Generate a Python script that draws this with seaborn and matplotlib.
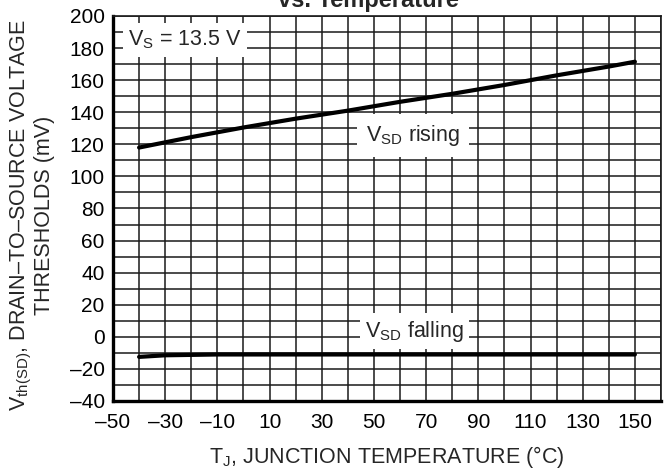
import matplotlib
matplotlib.use("Agg")
import matplotlib.pyplot as plt
import seaborn as sns
import pandas as pd
import numpy as np
from matplotlib.ticker import MultipleLocator

# Data
temp_rising = [-40, -20, 0, 20, 40, 60, 80, 100, 120, 140, 150]
vsd_rising = [118, 124.5, 130.5, 136, 141, 146.5, 151.5, 157, 163, 168.5, 171.5]
temp_falling = [-40, -30, -10, 10, 30, 50, 70, 90, 110, 130, 150]
vsd_falling = [-12.5, -11.5, -11, -11, -11, -11, -11, -11, -11, -11, -11]
x_ticks = [-50, -30, -10, 10, 30, 50, 70, 90, 110, 130, 150]
y_ticks = [-40, -20, 0, 20, 40, 60, 80, 100, 120, 140, 160, 180, 200]

sns.set_style("white")
plt.rcParams['font.family'] = ['Liberation Sans', 'DejaVu Sans']
plt.rcParams['mathtext.fontset'] = 'custom'
plt.rcParams['mathtext.rm'] = 'Liberation Sans'
plt.rcParams['mathtext.it'] = 'Liberation Sans'
plt.rcParams['mathtext.bf'] = 'Liberation Sans:bold'

fig = plt.figure(figsize=(6.64, 4.70), dpi=100)
ax = fig.add_axes([113/664, 1-401/470, (661-113)/664, (401-16)/470])

df_r = pd.DataFrame({"T": temp_rising, "V": vsd_rising})
df_f = pd.DataFrame({"T": temp_falling, "V": vsd_falling})
sns.lineplot(data=df_r, x="T", y="V", ax=ax, color="black", lw=3.0, zorder=5)
sns.lineplot(data=df_f, x="T", y="V", ax=ax, color="black", lw=3.0, zorder=5)

ax.set_xlim(-50, 160)
ax.set_ylim(-40, 200)
ax.set_xticks(x_ticks)
ax.set_xticklabels([str(v).replace('-', '\u2013') for v in x_ticks])
ax.set_yticks(y_ticks)
ax.set_yticklabels([str(v).replace('-', '\u2013') for v in y_ticks])
ax.xaxis.set_minor_locator(MultipleLocator(10))
ax.yaxis.set_minor_locator(MultipleLocator(10))
ax.grid(True, which='both', color='#1a1a1a', lw=1.1)
ax.set_axisbelow(True)
ax.tick_params(which='both', length=0, labelsize=15, colors='black')
ax.tick_params(axis='x', pad=9)
ax.tick_params(axis='y', pad=6)

for s in ['left', 'bottom']:
    ax.spines[s].set_linewidth(2.4)
    ax.spines[s].set_color('black')
for s in ['top', 'right']:
    ax.spines[s].set_linewidth(1.2)
    ax.spines[s].set_color('#1a1a1a')

ax.set_xlabel(r"T$_\mathrm{J}$, JUNCTION TEMPERATURE (°C)", fontsize=15.5)
ax.xaxis.label.set_va('center')
ax.xaxis.set_label_coords(0.5, (401-457)/385)
ax.set_ylabel("V$_\\mathrm{th(SD)}$, DRAIN\u2013TO\u2013SOURCE VOLTAGE\nTHRESHOLDS (mV)",
              fontsize=15.5, linespacing=1.0)
ax.yaxis.label.set_va('center')
ax.yaxis.set_label_coords((32 - 113)/548, (401-215)/385)

ax.text(-22.5, 185, r"V$_\mathrm{S}$ = 13.5 V", fontsize=15.5, ha='center', va='center',
        bbox=dict(boxstyle='square,pad=0.25', fc='white', ec='none'), zorder=6)
ax.text(65, 125.5, r"V$_\mathrm{SD}$ rising", fontsize=15.5, ha='center', va='center',
        bbox=dict(boxstyle='square,pad=0.4', fc='white', ec='none'), zorder=6)
ax.text(65.5, 3.5, r"V$_\mathrm{SD}$ falling", fontsize=15.5, ha='center', va='center',
        bbox=dict(boxstyle='square,pad=0.25', fc='white', ec='none'), zorder=6)

fig.text(368/664, 1-7/470, "vs. Temperature", ha='center', va='baseline',
         fontsize=17, fontweight='bold')

fig.savefig("out.png", dpi=100)
